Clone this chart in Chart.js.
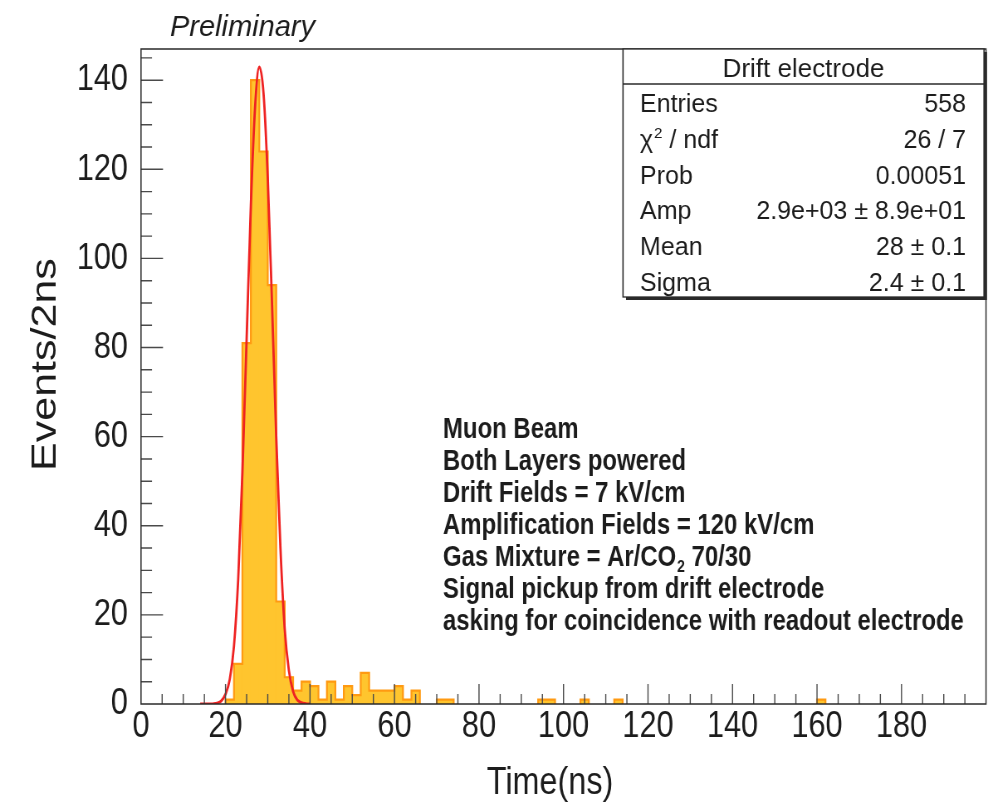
<!DOCTYPE html>
<html>
<head>
<meta charset="utf-8">
<script src="https://cdn.jsdelivr.net/npm/chart.js@4.4.1/dist/chart.umd.min.js"></script>
<style>
  html, body { margin: 0; padding: 0; background: #ffffff; overflow: hidden; }
  #wrap { width: 988px; height: 809px; overflow: hidden; position: relative; }
  #c { display: block; transform-origin: 0 0; }
</style>
</head>
<body>
<div id="wrap"><canvas id="c" width="1190" height="809"></canvas></div>
<script>
// ---------------- data ----------------
// histogram bins (lower edge, ns) and counts (events / 2 ns)
const binLow    = [20, 22, 24, 26, 28, 30, 32, 34, 36, 38, 40, 42, 44, 46, 48, 50, 52, 54, 56, 58, 60, 62, 64, 70, 72, 94, 96, 104, 112, 160];
const binCounts = [ 1,  9, 81,140,124, 94, 23,  6,  3,  5,  4,  1,  5,  1,  4,  2,  7,  3,  3,  3,  4,  1,  3,  1,  1,  1,  1,   1,   1,   1];
const binWidth = 2;

// fitted gaussian curve, read point by point
const fitTime  = [14, 15, 16, 17, 18, 19, 20, 21, 22, 23, 24, 25, 26, 27, 28, 29, 30, 31, 32, 33, 34, 35, 36, 37, 38, 39, 40];
const fitValue = [ 0,  0,  0, 0.05, 0.2, 0.7, 2.2, 5.5, 13, 28, 52, 82, 112, 134, 143, 137, 118, 90, 60, 35, 17, 7.5, 2.8, 0.9, 0.3, 0.1, 0];

// axis ticks
const xTickValues = [0, 20, 40, 60, 80, 100, 120, 140, 160, 180];
const yTickValues = [0, 20, 40, 60, 80, 100, 120, 140];
const xRange = [0, 200];
const yRange = [0, 147];

// stats box
const statsTitle  = 'Drift electrode';
const statsLabels = ['Entries', 'χ2 / ndf', 'Prob', 'Amp', 'Mean', 'Sigma'];
const statsValues = ['558', '26 / 7', '0.00051', '2.9e+03 ± 8.9e+01', '28 ± 0.1', '2.4 ± 0.1'];

// annotation
const noteLines = [
  'Muon Beam',
  'Both Layers powered',
  'Drift Fields = 7 kV/cm',
  'Amplification Fields = 120 kV/cm',
  'Gas Mixture = Ar/CO_2 70/30',
  'Signal pickup from drift electrode',
  'asking for coincidence with readout electrode'
];
const headerText = 'Preliminary';
const xTitle = 'Time(ns)';
const yTitle = 'Events/2ns';

// ---------------- styles ----------------
// The original canvas is horizontally compressed; the chart is drawn on a
// wider canvas and squeezed back to 988 px with a CSS transform.
const W = 1190;
const S = 988 / W;
document.getElementById('c').style.transform = 'scaleX(' + S + ')';
const SANS = "'Liberation Sans', Arial, Helvetica, sans-serif";
const INK = '#1c1c1c';

// ---------------- build datasets ----------------
const histData = binLow.map((lo, i) => ({ x: lo + binWidth / 2, y: binCounts[i] }));
const outline = [];
binLow.forEach((lo, i) => {
  const newGroup = (i === 0) || (binLow[i - 1] !== lo - binWidth);
  if (newGroup) {
    if (i > 0) {
      const end = binLow[i - 1] + binWidth;
      outline.push({ x: end, y: 0 });
      outline.push({ x: end + 0.5, y: null });
    }
    outline.push({ x: lo, y: 0 });
  }
  outline.push({ x: lo, y: binCounts[i] });
});
outline.push({ x: binLow[binLow.length - 1] + binWidth, y: 0 });
const fitData = fitTime.map((t, i) => ({ x: t, y: fitValue[i] }));

// ---------------- decoration plugin ----------------
const rootStyle = {
  id: 'rootStyle',
  afterDatasetsDraw(chart) {
    const { ctx, chartArea: a, scales: { x, y } } = chart;
    ctx.save();
    // ticks (drawn inside the frame, ROOT style)
    ctx.strokeStyle = '#4a4a4a';
    ctx.lineWidth = 1.4;
    ctx.beginPath();
    for (let v = xRange[0] + 5; v < xRange[1]; v += 5) {
      const px = x.getPixelForValue(v);
      const len = (v % 20 === 0) ? 20 : 10;
      ctx.moveTo(px, a.bottom);
      ctx.lineTo(px, a.bottom - len);
    }
    for (let v = 5; v <= yRange[1]; v += 5) {
      const py = y.getPixelForValue(v);
      const len = ((v % 20 === 0) ? 22 : 11) / S;
      ctx.moveTo(a.left, py);
      ctx.lineTo(a.left + len, py);
    }
    ctx.stroke();
    // frame
    ctx.strokeStyle = '#2a2a2a';
    ctx.lineWidth = 1.5;
    ctx.strokeRect(a.left, a.top, a.right - a.left, a.bottom - a.top);
    ctx.restore();
  },
  afterDraw(chart) {
    const { ctx } = chart;

    // annotation (compressed like the rest of the plot)
    ctx.save();
    ctx.fillStyle = INK;
    ctx.textAlign = 'left';
    ctx.textBaseline = 'alphabetic';
    const bold = 'bold 28.8px ' + SANS;
    const nx = 443 / S;
    noteLines.forEach((line, i) => {
      const base = 438 + 32 * i;
      ctx.font = bold;
      const idx = line.indexOf('_');
      if (idx < 0) {
        ctx.fillText(line, nx, base);
      } else {
        const pre = line.slice(0, idx);
        const sub = line.charAt(idx + 1);
        const post = line.slice(idx + 2);
        ctx.fillText(pre, nx, base);
        let px = nx + ctx.measureText(pre).width;
        ctx.font = 'bold 17px ' + SANS;
        ctx.fillText(sub, px + 1, base + 6);
        px += ctx.measureText(sub).width + 1;
        ctx.font = bold;
        ctx.fillText(post, px, base);
      }
    });
    ctx.restore();

    // uncompressed items: draw in screen units
    ctx.save();
    ctx.scale(1 / S, 1);
    ctx.fillStyle = INK;
    ctx.textBaseline = 'alphabetic';
    // "Preliminary"
    ctx.font = 'italic 29px ' + SANS;
    ctx.textAlign = 'left';
    ctx.fillText(headerText, 170, 36);

    // stats box
    const bx = 623, by = 49, bw = 361, bh = 248;
    ctx.fillStyle = '#2a2a2a';
    ctx.fillRect(bx + 3, by + 3, bw, bh);
    ctx.fillStyle = '#ffffff';
    ctx.fillRect(bx, by, bw, bh);
    ctx.strokeStyle = '#2a2a2a';
    ctx.lineWidth = 1.3;
    ctx.strokeRect(bx, by, bw, bh);
    ctx.beginPath();
    ctx.moveTo(bx, 84);
    ctx.lineTo(bx + bw, 84);
    ctx.stroke();
    ctx.fillStyle = INK;
    ctx.font = '26px ' + SANS;
    ctx.textAlign = 'center';
    ctx.fillText(statsTitle, bx + bw / 2, 77);
    statsLabels.forEach((lab, i) => {
      const base = 112 + 35.8 * i;
      ctx.font = '25px ' + SANS;
      ctx.textAlign = 'left';
      if (lab.startsWith('χ2')) {
        ctx.fillText('χ', 640, base);
        const w = ctx.measureText('χ').width;
        ctx.font = '15px ' + SANS;
        ctx.fillText('2', 640 + w + 1, base - 10);
        const w2 = ctx.measureText('2').width;
        ctx.font = '25px ' + SANS;
        ctx.fillText(lab.slice(2), 640 + w + w2 + 1, base);
      } else {
        ctx.fillText(lab, 640, base);
      }
      ctx.textAlign = 'right';
      ctx.fillText(statsValues[i], 966, base);
    });
    ctx.restore();
  }
};

new Chart(document.getElementById('c'), {
  type: 'bar',
  data: {
    datasets: [
      {
        type: 'line', label: 'fit', data: fitData,
        borderColor: '#ee2222', borderWidth: 2.8, pointRadius: 0,
        cubicInterpolationMode: 'monotone', fill: false, order: 0
      },
      {
        type: 'line', label: 'outline', data: outline, stepped: true,
        borderColor: '#ff9a12', borderWidth: 2.2, pointRadius: 0,
        fill: false, spanGaps: false, order: 1
      },
      {
        type: 'bar', label: 'hist', data: histData,
        backgroundColor: '#ffc52e', borderWidth: 0,
        barPercentage: 1, categoryPercentage: 1, inflateAmount: 0.5, order: 2
      }
    ]
  },
  options: {
    responsive: false,
    animation: false,
    devicePixelRatio: 1,
    events: [],
    layout: { padding: { top: 49, right: 2 / S, left: 0, bottom: 0 } },
    plugins: { legend: { display: false }, tooltip: { enabled: false } },
    scales: {
      x: {
        type: 'linear', min: xRange[0], max: xRange[1], offset: false,
        grid: { display: false, drawTicks: false, offset: false },
        border: { display: false },
        afterBuildTicks: (s) => { s.ticks = xTickValues.map(v => ({ value: v })); },
        afterFit: (s) => { s.height = 105; },
        ticks: {
          autoSkip: false, maxRotation: 0, minRotation: 0, padding: 1,
          color: INK, font: { family: SANS, size: 37 },
          callback: (v) => String(v)
        },
        title: {
          display: true, text: xTitle + '   ', color: INK,
          font: { family: SANS, size: 39 }, padding: { top: 0, bottom: 2 }
        }
      },
      y: {
        type: 'linear', min: yRange[0], max: yRange[1],
        grid: { display: false, drawTicks: false },
        border: { display: false },
        afterBuildTicks: (s) => { s.ticks = yTickValues.map(v => ({ value: v })); },
        afterFit: (s) => { s.width = 141 / S; },
        ticks: {
          padding: 13 / S, color: INK, font: { family: SANS, size: 37 },
          callback: (v) => String(v)
        },
        title: {
          display: true, text: '  ' + yTitle, color: INK,
          font: { family: SANS, size: 43 }, padding: { top: 29, bottom: 0 }
        }
      }
    }
  },
  plugins: [rootStyle]
});
</script>
</body>
</html>
